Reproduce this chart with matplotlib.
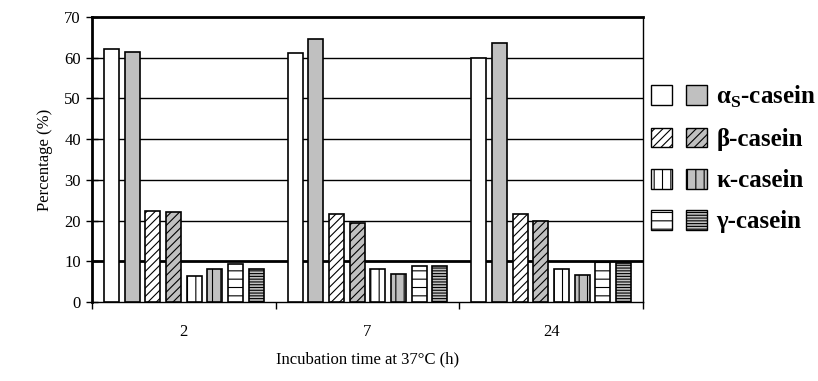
import matplotlib
matplotlib.use("Agg")
import matplotlib.pyplot as plt
import numpy as np
from matplotlib.patches import Patch
from matplotlib.legend_handler import HandlerTuple

plt.rcParams['font.family'] = ['Liberation Serif', 'DejaVu Serif']
plt.rcParams['mathtext.fontset'] = 'custom'
plt.rcParams['mathtext.rm'] = 'Liberation Serif:bold'
plt.rcParams['hatch.linewidth'] = 0.8

times = ["2", "7", "24"]

# each casein has two series (white / grey bar)
alpha_w = [62.1, 61.2, 59.9]
alpha_g = [61.4, 64.5, 63.6]
beta_w = [22.4, 21.5, 21.5]
beta_g = [22.1, 19.3, 19.9]
kappa_w = [6.4, 8.1, 8.1]
kappa_g = [8.1, 7.0, 6.6]
gamma_w = [9.3, 8.8, 9.9]
gamma_g = [8.1, 8.8, 9.5]

series = [alpha_w, alpha_g, beta_w, beta_g, kappa_w, kappa_g, gamma_w, gamma_g]
fills = ['white', '#c0c0c0'] * 4
hatches = [None, None, '////', '////', '||', '||', '--', '------']
labels = [r'α$_\mathregular{S}$-casein', 'β-casein', 'κ-casein', 'γ-casein']

fig = plt.figure(figsize=(8.18, 3.81), dpi=100)
ax = fig.add_axes([0.1125, 0.2073, 0.6735, 0.748])

x = np.arange(len(times))
pitch = 0.1127
width = 0.082
for i, vals in enumerate(series):
    ax.bar(x + (i - 3.5) * pitch, vals, width, color=fills[i],
           edgecolor='black', linewidth=1.2, hatch=hatches[i], zorder=3)

ax.set_xlim(-0.5, 2.5)
ax.set_ylim(0, 70)
ax.set_yticks(np.arange(0, 71, 10))
for v in range(10, 70, 10):
    ax.axhline(v, color='black', lw=2 if v == 10 else 1, zorder=1)

ax.spines['top'].set_linewidth(2)
ax.spines['left'].set_linewidth(2)
ax.spines['right'].set_linewidth(1)
ax.spines['bottom'].set_linewidth(1)

ax.set_xticks([-0.5, 0.5, 1.5, 2.5])
ax.set_xticklabels([])
ax.set_xticks(x, minor=True)
ax.set_xticklabels(times, minor=True, fontsize=12)
ax.tick_params(axis='x', which='minor', length=0, pad=16)
ax.tick_params(axis='x', which='major', direction='out', length=5, width=1)
ax.tick_params(axis='y', direction='inout', length=8, width=1, labelsize=12, pad=4)

ax.set_xlabel('Incubation time at 37°C (h)', fontsize=12, labelpad=8)
ax.set_ylabel('Percentage (%)', fontsize=12, labelpad=8)

handles = [(Patch(facecolor='white', edgecolor='black', hatch=hatches[2 * k]),
            Patch(facecolor='#c0c0c0', edgecolor='black', hatch=hatches[2 * k + 1]))
           for k in range(4)]
fig.legend(handles, labels, loc='upper left', bbox_to_anchor=(0.796, 0.78),
           handler_map={tuple: HandlerTuple(ndivide=None, pad=0.56)},
           handlelength=2.25, handleheight=0.85, handletextpad=0.35,
           labelspacing=0.7, borderpad=0, borderaxespad=0, frameon=False,
           prop={'weight': 'bold', 'size': 18})

fig.savefig('out.png', dpi=100)
